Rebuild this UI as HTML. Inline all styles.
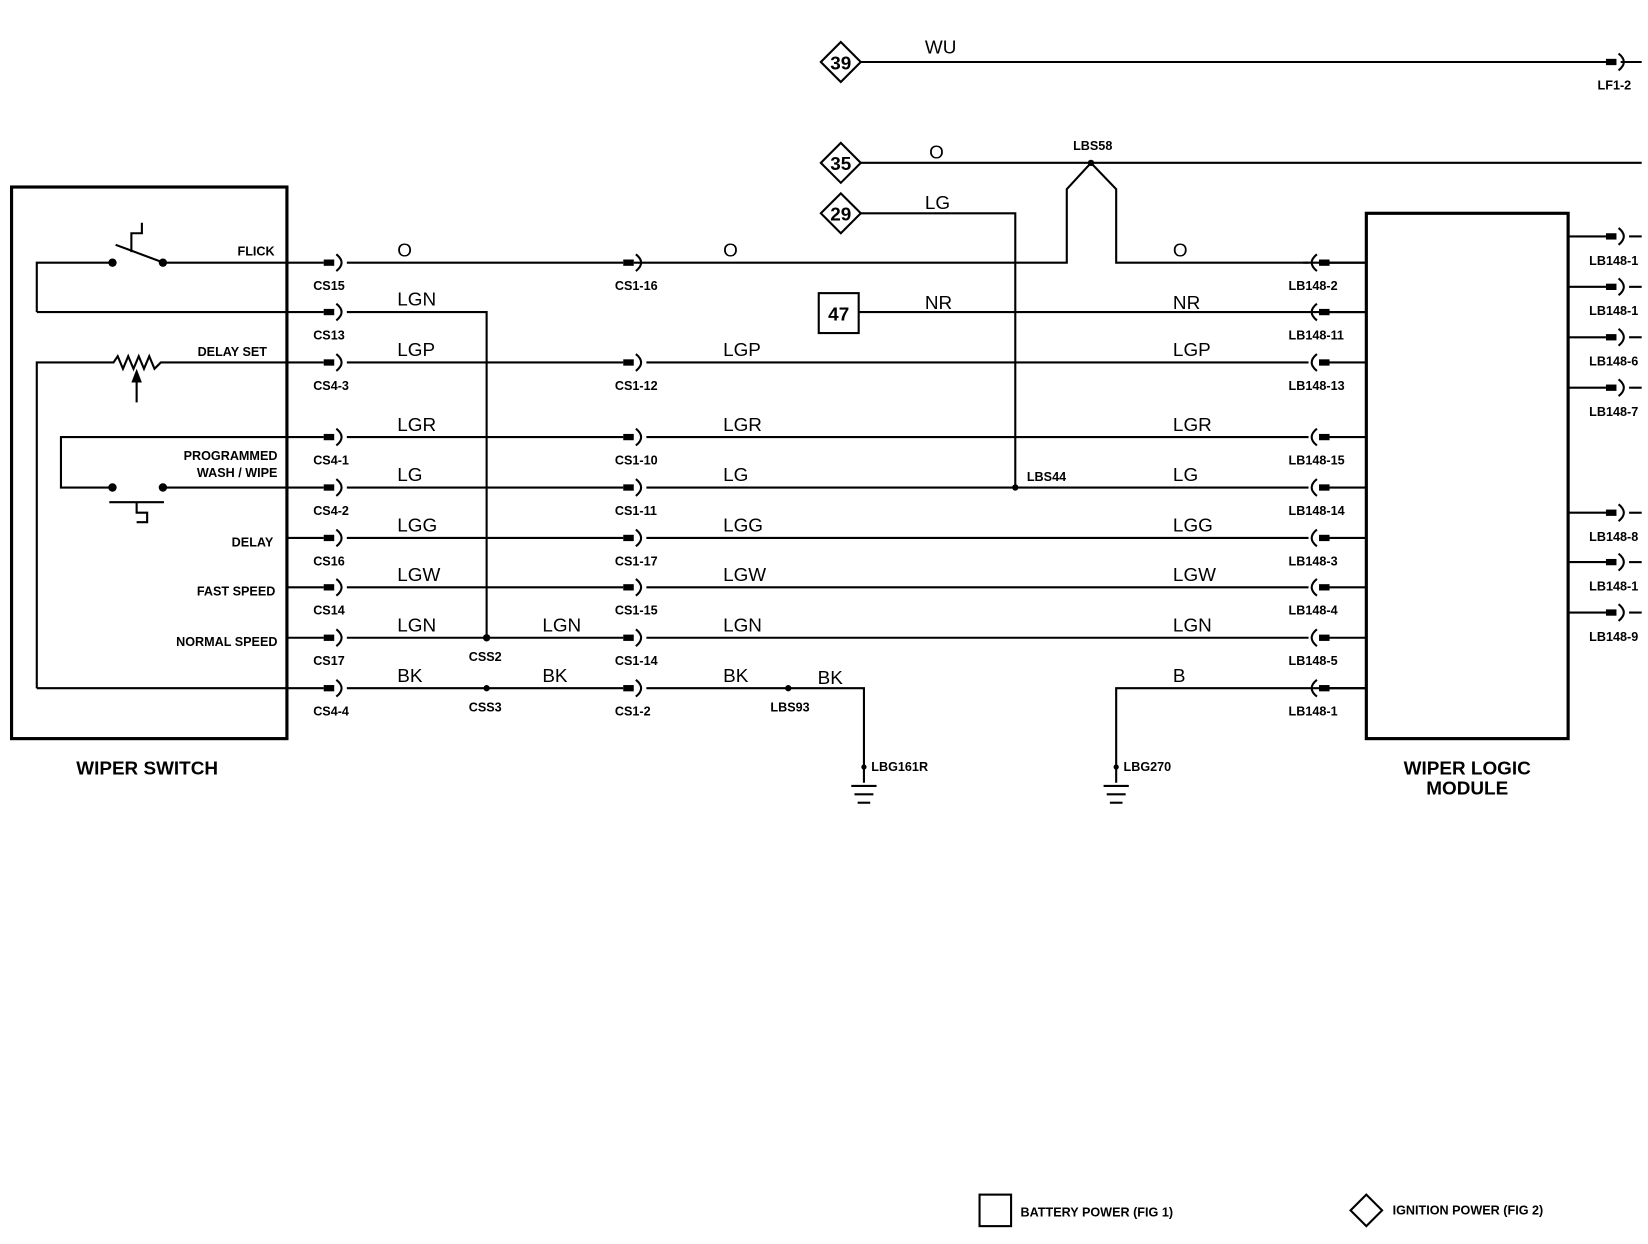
<!DOCTYPE html>
<html><head><meta charset="utf-8">
<style>
html,body{margin:0;padding:0;background:#fff;}
svg{display:block;}
text{font-family:"Liberation Sans",Arial,sans-serif;fill:#000;}
.w{font-size:18px;}
.s{font-size:12px;font-weight:bold;}
.b{font-size:18px;font-weight:bold;}
</style></head>
<body>
<svg id="g" width="1648" height="1244" viewBox="0 0 1568 1184" preserveAspectRatio="none" xmlns="http://www.w3.org/2000/svg">
<g stroke="#000" stroke-width="2" fill="none">
<rect x="11" y="178" width="262" height="525" stroke-width="3"/>
<rect x="1300" y="203" width="192" height="500" stroke-width="3"/>
<polyline points="35,297 35,250 107,250"/>
<line x1="110" y1="233" x2="153" y2="249"/>
<polyline points="125,240 125,222 135,222 135,212"/>
<polyline points="35,655 35,345 108,345 112,339 117,351 122,339 127,351 132,339 137,351 142,339 147,351 153,345 273,345"/>
<line x1="130" y1="383" x2="130" y2="362"/>
<polyline points="273,416 58,416 58,464 107,464"/>
<line x1="104" y1="478" x2="156" y2="478"/>
<polyline points="130,478 130,488 140,488 140,497 130,497"/>
<line x1="155" y1="250" x2="273" y2="250"/>
<line x1="35" y1="297" x2="273" y2="297"/>
<line x1="155" y1="464" x2="273" y2="464"/>
<line x1="35" y1="655" x2="273" y2="655"/>
<polyline points="330,297 463,297 463,607"/>
<polyline points="750,655 822,655 822,745"/>
<line x1="810" y1="748" x2="834" y2="748"/><line x1="813" y1="756" x2="831" y2="756"/><line x1="816" y1="764" x2="828" y2="764"/>
<polyline points="1300,655 1062,655 1062,745"/>
<line x1="1050" y1="748" x2="1074" y2="748"/><line x1="1053" y1="756" x2="1071" y2="756"/><line x1="1056" y1="764" x2="1068" y2="764"/>
<line x1="818" y1="59" x2="1528" y2="59"/>
<line x1="1542" y1="59" x2="1562" y2="59"/>
<line x1="818" y1="155" x2="1562" y2="155"/>
<polyline points="818,203 966,203 966,464"/>
<polyline points="603,250 1015,250 1015,180 1038,155 1062,180 1062,250 1300,250"/>
<line x1="817" y1="297" x2="1300" y2="297"/>
<rect x="779" y="279" width="38" height="38"/>
<polygon points="800,40 819,59 800,78 781,59"/>
<polygon points="800,136 819,155 800,174 781,155"/>
<polygon points="800,184 819,203 800,222 781,203"/>
<rect x="932" y="1137" width="30" height="30"/>
<polygon points="1300,1137 1315,1152 1300,1167 1285,1152"/>
</g>
<polygon points="130,351 125,364 135,364" fill="#000"/>
<g id="dyn"></g>
<g fill="#000">
<circle cx="107" cy="250" r="4"/><circle cx="155" cy="250" r="4"/>
<circle cx="107" cy="464" r="4"/><circle cx="155" cy="464" r="4"/>
<circle cx="463" cy="607" r="3.5"/><circle cx="463" cy="655" r="3"/>
<circle cx="750" cy="655" r="3"/><circle cx="966" cy="464" r="3"/>
<circle cx="1038" cy="155" r="3"/><circle cx="822" cy="730" r="2.5"/><circle cx="1062" cy="730" r="2.5"/>
</g>
<g>
<text class="b" x="800" y="66" text-anchor="middle" font-size="16">39</text>
<text class="b" x="800" y="162" text-anchor="middle" font-size="16">35</text>
<text class="b" x="800" y="210" text-anchor="middle" font-size="16">29</text>
<text class="b" x="798" y="305" text-anchor="middle" font-size="16">47</text>
<text class="w" x="880" y="51">WU</text>
<text class="w" x="884" y="151">O</text>
<text class="w" x="880" y="199">LG</text>
<text class="w" x="880" y="294">NR</text>
<text class="w" x="1116" y="294">NR</text>
<text class="s" x="1021" y="143">LBS58</text>
<text class="s" x="977" y="458">LBS44</text>
<text class="s" x="1520" y="85">LF1-2</text>
<text class="s" x="226" y="243">FLICK</text>
<text class="s" x="188" y="339">DELAY SET</text>
<text class="s" x="264" y="438" text-anchor="end">PROGRAMMED</text>
<text class="s" x="264" y="454" text-anchor="end">WASH / WIPE</text>
<text class="s" x="260" y="520" text-anchor="end">DELAY</text>
<text class="s" x="262" y="567" text-anchor="end">FAST SPEED</text>
<text class="s" x="264" y="615" text-anchor="end">NORMAL SPEED</text>
<text class="s" x="446" y="629">CSS2</text>
<text class="s" x="446" y="677">CSS3</text>
<text class="s" x="733" y="677">LBS93</text>
<text class="s" x="829" y="734">LBG161R</text>
<text class="s" x="1069" y="734">LBG270</text>
<text class="b" x="140" y="737" text-anchor="middle">WIPER SWITCH</text>
<text class="b" x="1396" y="737" text-anchor="middle">WIPER LOGIC</text>
<text class="b" x="1396" y="756" text-anchor="middle">MODULE</text>
<text class="s" x="971" y="1158" font-size="15">BATTERY POWER (FIG 1)</text>
<text class="s" x="1325" y="1156" font-size="15">IGNITION POWER (FIG 2)</text>
</g>
</svg>
<script>
var d=document.getElementById("dyn"),h="";
function male(x,y){return '<rect x="'+(x-10)+'" y="'+(y-3)+'" width="10" height="6" fill="#000"/><path d="M'+(x+2)+' '+(y-8)+' Q'+(x+12)+' '+y+' '+(x+2)+' '+(y+8)+'" stroke="#000" stroke-width="2" fill="none"/>';}
function fem(x,y){return '<rect x="'+x+'" y="'+(y-3)+'" width="10" height="6" fill="#000"/><path d="M'+(x-2)+' '+(y-8)+' Q'+(x-12)+' '+y+' '+(x-2)+' '+(y+8)+'" stroke="#000" stroke-width="2" fill="none"/>';}
function ln(a,y,b){return '<line x1="'+a+'" y1="'+y+'" x2="'+b+'" y2="'+y+'" stroke="#000" stroke-width="2"/>';}
function t(x,y,s,c){return '<text class="'+c+'" x="'+x+'" y="'+y+'">'+s+'</text>';}
var rows=[
[250,"CS15","O","CS1-16","O","O","LB148-2"],
[297,"CS13","LGN",null,null,null,"LB148-11"],
[345,"CS4-3","LGP","CS1-12","LGP","LGP","LB148-13"],
[416,"CS4-1","LGR","CS1-10","LGR","LGR","LB148-15"],
[464,"CS4-2","LG","CS1-11","LG","LG","LB148-14"],
[512,"CS16","LGG","CS1-17","LGG","LGG","LB148-3"],
[559,"CS14","LGW","CS1-15","LGW","LGW","LB148-4"],
[607,"CS17","LGN","CS1-14","LGN","LGN","LB148-5"],
[655,"CS4-4","BK","CS1-2","BK","B","LB148-1"]];
rows.forEach(function(r){var y=r[0];
 h+=ln(273,y,308)+male(318,y)+t(298,y+26,r[1],"s")+t(378,y-6,r[2],"w");
 if(r[3]){h+=ln(330,y,593)+male(603,y)+t(585,y+26,r[3],"s")+t(688,y-6,r[4],"w");
  if(y!=250&&y!=655)h+=ln(615,y,1245);
  if(y==655)h+=ln(615,y,750)+t(778,y-4,"BK","w");
  h+=t(1116,y-6,r[5],"w");}
 h+=fem(1255,y)+ln(1265,y,1300)+t(1226,y+26,r[6],"s");});
h+=t(516,601,"LGN","w")+t(516,649,"BK","w");
h+=ln(1240,250,1245);
[[225,"LB148-1"],[273,"LB148-1"],[321,"LB148-6"],[369,"LB148-7"],[488,"LB148-8"],[535,"LB148-1"],[583,"LB148-9"]].forEach(function(p){
 h+=ln(1492,p[0],1528)+male(1538,p[0])+ln(1550,p[0],1562)+t(1512,p[0]+27,p[1],"s");});
h+=male(1538,59);
d.innerHTML=h;
</script>
</body></html>
